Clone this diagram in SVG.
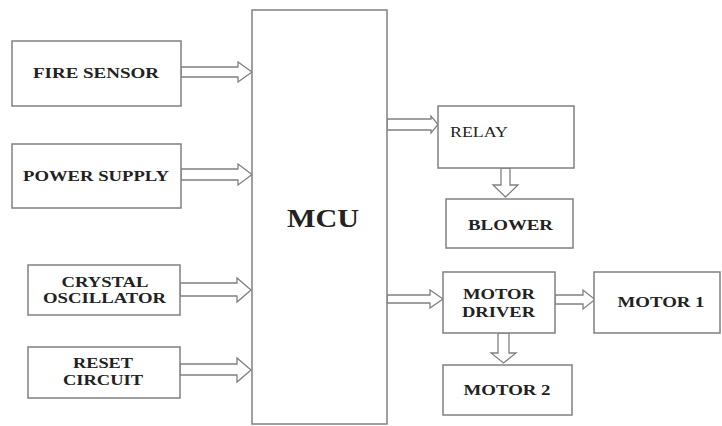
<svg xmlns="http://www.w3.org/2000/svg" width="722" height="426" viewBox="0 0 722 426">
<style>
.box{fill:#fff;stroke:#808080;stroke-width:1.5}
.arr{fill:#fff;stroke:#808080;stroke-width:1.3;stroke-linejoin:miter}
.t{font-family:"Liberation Serif","Times New Roman",serif;font-weight:bold;font-size:14.5px;fill:#222;text-anchor:middle;dominant-baseline:central}
</style>
<rect width="722" height="426" fill="#fff"/>
<g id="connectors">
<polygon class="arr" points="181,67 238,67 238,62 252,72 238,82 238,77 181,77"/>
<polygon class="arr" points="181,169 238,169 238,164 252,174.5 238,185 238,180 181,180"/>
<polygon class="arr" points="180,283 237,283 237,278 251,290 237,302 237,296 180,296"/>
<polygon class="arr" points="180,364 237,364 237,358 251,370 237,382 237,375 180,375"/>
<polygon class="arr" points="387,119 431,119 431,116 438,124.5 431,133 431,130 387,130"/>
<polygon class="arr" points="387,295 430,295 430,290 443,299 430,308 430,303 387,303"/>
<polygon class="arr" points="555,295 583,295 583,290 595,299.5 583,309 583,304 555,304"/>
<polygon class="arr" points="501,168 501,185 493,185 505.5,197 518,185 510,185 510,168"/>
<polygon class="arr" points="498,333 498,353 491,353 503.5,363 516,353 509,353 509,333"/>
</g>
<g id="mcu"><rect class="box" x="252" y="10" width="135" height="414"/><text class="t" x="323" y="218" style="font-size:25px" textLength="72" lengthAdjust="spacingAndGlyphs">MCU</text></g>
<g id="fire-sensor"><rect class="box" x="12" y="41" width="169" height="65"/><text class="t" x="96" y="73" textLength="126" lengthAdjust="spacingAndGlyphs">FIRE SENSOR</text></g>
<g id="power-supply"><rect class="box" x="12" y="144" width="169" height="64"/><text class="t" x="96" y="176" textLength="146" lengthAdjust="spacingAndGlyphs">POWER SUPPLY</text></g>
<g id="crystal-oscillator"><rect class="box" x="28" y="265" width="152" height="50"/><text class="t" x="105" y="282" textLength="87" lengthAdjust="spacingAndGlyphs">CRYSTAL</text><text class="t" x="104.5" y="298" textLength="123" lengthAdjust="spacingAndGlyphs">OSCILLATOR</text></g>
<g id="reset-circuit"><rect class="box" x="28" y="347" width="152" height="51"/><text class="t" x="103" y="363" textLength="60" lengthAdjust="spacingAndGlyphs">RESET</text><text class="t" x="103" y="380" textLength="80" lengthAdjust="spacingAndGlyphs">CIRCUIT</text></g>
<g id="relay"><rect class="box" x="438" y="106" width="136" height="62"/><text class="t" x="479" y="132" style="font-weight:normal" textLength="58" lengthAdjust="spacingAndGlyphs">RELAY</text></g>
<g id="blower"><rect class="box" x="446" y="199" width="127" height="49"/><text class="t" x="510.5" y="225" textLength="85" lengthAdjust="spacingAndGlyphs">BLOWER</text></g>
<g id="motor-driver"><rect class="box" x="443" y="272" width="112" height="61"/><text class="t" x="499" y="294" textLength="72" lengthAdjust="spacingAndGlyphs">MOTOR</text><text class="t" x="498.5" y="312" textLength="73" lengthAdjust="spacingAndGlyphs">DRIVER</text></g>
<g id="motor1"><rect class="box" x="594" y="272" width="126" height="61"/><text class="t" x="661" y="302" textLength="87" lengthAdjust="spacingAndGlyphs">MOTOR 1</text></g>
<g id="motor2"><rect class="box" x="443" y="365" width="129" height="50"/><text class="t" x="507" y="390" textLength="87" lengthAdjust="spacingAndGlyphs">MOTOR 2</text></g>
</svg>
